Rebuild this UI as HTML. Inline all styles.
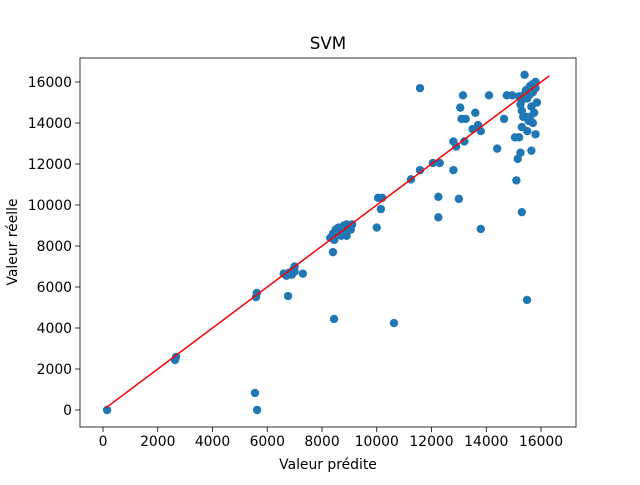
<!DOCTYPE html>
<html><head><meta charset="utf-8"><style>
body{margin:0;background:#fff}
text{font-family:"DejaVu Sans","Liberation Sans",sans-serif;font-size:13.9px;fill:#000}
</style></head><body>
<svg id="chart" width="640" height="480" xmlns="http://www.w3.org/2000/svg">
<rect width="640" height="480" fill="#fff"/>
<g id="marks"></g>
<rect x="80" y="58" width="496" height="369" fill="none" stroke="#000" stroke-width="0.8"/>
<g id="axes"></g>
<text x="328" y="49" text-anchor="middle" style="font-size:16.7px">SVM</text>
<text x="328" y="469" text-anchor="middle">Valeur prédite</text>
<text x="17" y="242" text-anchor="middle" transform="rotate(-90 17 242)">Valeur réelle</text>
</svg>
<script>
const predicted=[150,5550,5630,5620,5590,2670,2630,6760,8440,10630,15490,11580,
6600,6800,6950,7000,6700,7300,6700,6900,7000,
8300,8400,8500,8600,8800,8900,9100,8700,8900,9050,8450,8400,8600,8800,
10000,10050,10200,10150,11250,11580,12050,12300,12250,12250,12800,13000,13800,
12800,12900,13050,13150,13100,13200,13250,13500,13600,13700,13800,14100,14400,14650,14750,14950,15050,15200,15150,15100,15250,15300,15650,15800,
15200,15250,15300,15350,15400,15450,15500,15550,15600,15650,15700,15750,15800,15850,15300,15400,15600,15700,15800,15300,15500,15700,15600,15450];
const actual=[0,830,0,5710,5510,2590,2440,5560,4440,4240,5370,15700,
6650,6700,6850,7000,6550,6650,6600,6600,6750,
8400,8600,8800,8900,9000,9050,9050,8500,8500,8800,8300,7700,8700,8800,
8900,10350,10350,9800,11250,11700,12050,12050,10400,9400,11700,10300,8830,
13100,12850,14750,15350,14200,13100,14200,13700,14500,13900,13600,15350,12750,14200,15350,15350,13300,13300,12250,11200,12550,9650,12650,13450,
15300,14900,14600,14300,16350,15600,15200,14100,15800,14800,15500,14500,16000,15000,15100,15400,15400,15900,15700,13800,13600,14000,14300,14300];
const xTicks=[0,2000,4000,6000,8000,10000,12000,14000,16000];
const yTicks=[0,2000,4000,6000,8000,10000,12000,14000,16000];
const fitLine=[100,16300];
const sx=v=>103+v*0.027375, sy=v=>410-v*0.0205;
const NS="http://www.w3.org/2000/svg";
const marks=document.getElementById('marks'), axes=document.getElementById('axes');
predicted.forEach((p,i)=>{
 const c=document.createElementNS(NS,'circle');
 c.setAttribute('cx',sx(p));c.setAttribute('cy',sy(actual[i]));c.setAttribute('r',4.2);c.setAttribute('fill','#1f77b4');
 
 
 marks.appendChild(c);
});
const l=document.createElementNS(NS,'line');
l.setAttribute('x1',sx(fitLine[0]));l.setAttribute('y1',sy(fitLine[0]));l.setAttribute('x2',sx(fitLine[1]));l.setAttribute('y2',sy(fitLine[1]));
l.setAttribute('stroke','red');l.setAttribute('stroke-width',1.5);


marks.appendChild(l);
xTicks.forEach(t=>{
 const x=sx(t);
 const tk=document.createElementNS(NS,'line');
 tk.setAttribute('x1',x);tk.setAttribute('x2',x);tk.setAttribute('y1',427);tk.setAttribute('y2',432);tk.setAttribute('stroke','#000');tk.setAttribute('stroke-width',0.8);
 
 
 axes.appendChild(tk);
 const tx=document.createElementNS(NS,'text');
 tx.setAttribute('x',x);tx.setAttribute('y',446);tx.setAttribute('text-anchor','middle');tx.textContent=t;
 
 
 axes.appendChild(tx);
});
yTicks.forEach(t=>{
 const y=sy(t);
 const tk=document.createElementNS(NS,'line');
 tk.setAttribute('x1',75);tk.setAttribute('x2',80);tk.setAttribute('y1',y);tk.setAttribute('y2',y);tk.setAttribute('stroke','#000');tk.setAttribute('stroke-width',0.8);
 
 
 axes.appendChild(tk);
 const tx=document.createElementNS(NS,'text');
 tx.setAttribute('x',72);tx.setAttribute('y',y+5);tx.setAttribute('text-anchor','end');tx.textContent=t;
 
 
 axes.appendChild(tx);
});
</script>
</body></html>
